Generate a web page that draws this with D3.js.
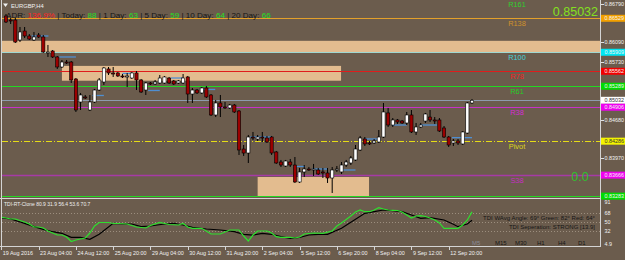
<!DOCTYPE html>
<html>
<head>
<meta charset="utf-8">
<script src="https://cdn.jsdelivr.net/npm/d3@7"></script>
<style>
  body { margin: 0; background: #6b5c4d; }
  svg { display: block; }
  text { font-family: "Liberation Sans", Arial, sans-serif; }
</style>
</head>
<body>
<div id="chart"></div>
<script>
const symbol = "EURGBP,H4";
const tickBars = [-1, 7, 15, 23, 31, 39, 47, 55, 63, 71, 79, 87, 95];
const tickLabels = ["19 Aug 2016", "23 Aug 04:00", "24 Aug 12:00", "25 Aug 20:00", "29 Aug 04:00",
  "30 Aug 12:00", "31 Aug 20:00", "2 Sep 04:00", "5 Sep 12:00", "6 Sep 20:00", "8 Sep 04:00",
  "9 Sep 12:00", "12 Sep 20:00"];

const opens = [0.86571,0.86498,0.86498,0.86133,0.86297,0.86206,0.86133,0.86224,0.86188,0.85896,
  0.85932,0.85823,0.85640,0.85731,0.85731,0.85421,0.85001,0.85093,0.84855,0.85001,
  0.85220,0.85366,0.85604,0.85531,0.85531,0.85476,0.85458,0.85439,0.85531,0.85403,
  0.85220,0.85348,0.85330,0.85348,0.85348,0.85439,0.85385,0.85348,0.85348,0.85458,
  0.85147,0.85220,0.85166,0.85257,0.85129,0.84764,0.84983,0.84910,0.84892,0.84946,
  0.84837,0.84143,0.84070,0.84362,0.84326,0.84362,0.84344,0.84362,0.84089,0.83906,
  0.83833,0.83906,0.83851,0.83541,0.83724,0.83778,0.83760,0.83760,0.83724,0.83705,
  0.83614,0.83760,0.83724,0.83851,0.83888,0.83943,0.84125,0.84326,0.84253,0.84253,
  0.84271,0.84362,0.84801,0.84581,0.84673,0.84654,0.84618,0.84764,0.84454,0.84545,
  0.84654,0.84727,0.84673,0.84673,0.84527,0.84362,0.84253,0.84290,0.84235,0.84435,
  0.84983];
const highs = [0.86607,0.86534,0.86534,0.86370,0.86370,0.86242,0.86279,0.86261,0.86224,0.86042,
  0.85950,0.85841,0.85768,0.85768,0.85750,0.85439,0.85166,0.85129,0.85129,0.85239,
  0.85439,0.85640,0.85640,0.85640,0.85549,0.85512,0.85531,0.85549,0.85567,0.85421,
  0.85366,0.85366,0.85403,0.85494,0.85476,0.85458,0.85403,0.85403,0.85512,0.85476,
  0.85257,0.85239,0.85275,0.85293,0.85147,0.85038,0.85129,0.85001,0.84965,0.84965,
  0.84855,0.84216,0.84399,0.84454,0.84399,0.84454,0.84381,0.84381,0.84107,0.83943,
  0.83943,0.83961,0.83997,0.83797,0.83851,0.83815,0.83870,0.83797,0.83797,0.83797,
  0.83815,0.83833,0.83906,0.83943,0.84016,0.84216,0.84381,0.84362,0.84290,0.84326,
  0.84490,0.84983,0.84892,0.84709,0.84691,0.84673,0.84819,0.84855,0.84618,0.84618,
  0.84801,0.84855,0.84727,0.84709,0.84563,0.84381,0.84326,0.84326,0.84472,0.85001,
  0.85056];
const lows = [0.86443,0.86425,0.86078,0.86096,0.86169,0.86133,0.86115,0.86169,0.85896,0.85823,
  0.85804,0.85604,0.85622,0.85695,0.85348,0.84819,0.84855,0.85056,0.84837,0.84983,
  0.85202,0.85312,0.85494,0.85458,0.85458,0.85439,0.85275,0.85421,0.85220,0.85166,
  0.85129,0.85312,0.85312,0.85330,0.85330,0.85330,0.85312,0.85330,0.85330,0.84983,
  0.84983,0.85147,0.85147,0.85074,0.84746,0.84727,0.84727,0.84874,0.84874,0.84801,
  0.84034,0.84016,0.83888,0.84308,0.84290,0.84271,0.84253,0.84034,0.83870,0.83815,
  0.83815,0.83815,0.83523,0.83523,0.83632,0.83742,0.83651,0.83669,0.83614,0.83523,
  0.83340,0.83724,0.83687,0.83815,0.83851,0.83924,0.84107,0.84198,0.84216,0.84235,
  0.84253,0.84344,0.84545,0.84545,0.84600,0.84600,0.84581,0.84435,0.84399,0.84527,
  0.84618,0.84636,0.84600,0.84454,0.84344,0.84180,0.84198,0.84216,0.84216,0.84417,
  0.84965];
const closes = [0.86461,0.86480,0.86096,0.86279,0.86206,0.86151,0.86188,0.86188,0.85914,0.85914,
  0.85823,0.85640,0.85731,0.85713,0.85403,0.84855,0.85129,0.85074,0.85001,0.85220,
  0.85403,0.85622,0.85531,0.85512,0.85476,0.85458,0.85476,0.85531,0.85403,0.85184,
  0.85348,0.85330,0.85366,0.85439,0.85458,0.85348,0.85330,0.85385,0.85439,0.85147,
  0.85220,0.85166,0.85257,0.85093,0.84764,0.84983,0.84910,0.84892,0.84946,0.84819,
  0.84125,0.84070,0.84362,0.84344,0.84362,0.84344,0.84271,0.84070,0.83888,0.83851,
  0.83924,0.83851,0.83541,0.83724,0.83778,0.83760,0.83778,0.83687,0.83705,0.83614,
  0.83760,0.83778,0.83851,0.83906,0.83979,0.84143,0.84344,0.84235,0.84235,0.84290,
  0.84362,0.84819,0.84581,0.84673,0.84636,0.84618,0.84764,0.84454,0.84545,0.84581,
  0.84782,0.84673,0.84654,0.84472,0.84362,0.84216,0.84290,0.84253,0.84454,0.84983,
  0.85032];

const currentPrice = 0.85032;
const priceTicks = [0.86790, 0.86440, 0.86090, 0.85730, 0.85380, 0.85030, 0.84680, 0.84330, 0.83970, 0.83620];

// fibonacci pivot levels
const levelNames = ["R161", "R138", "R100", "R78", "R61", "R38", "Pivot", "S38", "S61"];
const levelPrices = [0.86912, 0.86529, 0.85909, 0.85562, 0.85289, 0.84906, 0.84286, 0.83666, 0.83283];

// supply / demand zones
const zoneStart = [-2, 12, 54];
const zoneEnd = [130, 71.9, 77.9];
const zoneTop = [0.86118, 0.85660, 0.83632];
const zoneBottom = [0.85909, 0.85390, 0.83240];

// short blue marks
const markStart = [5.5, 11.4, 18.5, 25, 30.5, 35.4, 41.6, 52.4, 61.6, 65.7, 71.7, 77, 82.8, 88.8, 95.7];
const markEnd = [9.1, 15, 21, 27.3, 33, 38, 44.9, 57, 64.2, 68.9, 75, 80.3, 86, 92.5, 100];
const markPrice = [0.86206, 0.85823, 0.85120, 0.85522, 0.85211, 0.85439, 0.85230, 0.84362, 0.83824,
  0.83778, 0.83760, 0.84326, 0.84581, 0.84581, 0.84350];

// TDI: [bar, value]
const tdiGreen = [[-1.3,60.2],[0,58.2],[1,56.2],[2,56.2],[4,50.0],[5,45.9],[6,39.7],[7,39.7],[8,37.7],
  [9,31.5],[10,27.4],[11,23.3],[12,23.3],[13,19.2],[14,10.0],[15,13.1],[16,15.1],[17,17.2],[18,27.4],
  [19,41.8],[20,49.0],[21,49.0],[22,49.0],[23,46.9],[24,46.9],[26,45.9],[28,39.7],[30,37.7],[31,42.8],
  [33,49.0],[35,44.9],[37,43.9],[38,46.9],[39,39.7],[40,37.1],[42,37.1],[44,25.4],[46,25.4],[48,33.6],
  [50,33.6],[51,21.3],[52,11.0],[53,23.3],[54,31.5],[56,31.5],[57,27.4],[58,19.9],[59,18.6],[61,18.6],
  [62,17.2],[63,19.2],[64,25.4],[66,27.4],[68,26.8],[70,31.5],[71,41.8],[72,48.0],[73,55.1],[74,62.3],
  [75,70.5],[76,74.6],[77,71.1],[78,71.1],[79,74.6],[80,79.3],[81,76.6],[82,74.6],[83,74.0],[84,73.6],
  [85,70.5],[86,64.3],[87,58.2],[88,62.3],[89,62.9],[90,61.3],[91,58.2],[92,54.1],[93,48.0],[94,37.1],
  [95,37.1],[96,37.1],[97,37.1],[98,43.9],[99,54.1],[100,70.7]];
const tdiSignal = [[-1.3,58.8],[1,56.2],[4,47.3],[6,40.4],[8,35.0],[10,30.1],[12,26.8],[14,18.6],[16,18.6],
  [18,14.5],[20,24.8],[23,47.3],[25,45.9],[27,45.9],[29,40.4],[31,41.8],[34,45.9],[36,47.3],[38,43.9],
  [40,39.1],[43,35.6],[46,33.6],[49,30.1],[51,24.8],[53,23.3],[55,26.8],[57,24.8],[59,19.9],[61,16.6],
  [63,18.2],[65,23.3],[67,24.8],[69,24.8],[72,37.1],[74,49.4],[77,67.8],[79,71.1],[81,74.6],[83,73.2],
  [85,71.1],[87,64.3],[89,57.6],[91,58.8],[94,54.1],[96,45.3],[97,40.4],[99,45.9],[100,53.6]];
const tdiTicks = [91, 68, 50, 32, 4.9];
const tdiGrid = [68, 50, 32];
const tdiHeader = [80.9, 31.9, 56.4, 53.6, 70.7];

const adrLabels = ["ADR: ", " | Today: ", " | 1 Day: ", " | 5 Day: ", " | 10 Day: ", " | 20 Day: "];
const adrValues = ["136.9%", "88", "63", "59", "64", "66"];
const tdiAngle = {wavg: 69, green: 82, red: 64};
const tdiSeparation = "STRONG [13.9]";
const timeframes = ["M5", "M15", "M30", "H1", "H4", "D1"];

// ---- layout ----
const width = 625, height = 260;
const plotL = 2, plotR = 600;
const mainTop = 0, mainBot = 197;
const subTop = 199, subBot = 246;

const levelColor = {R161: "#2fcf2f", R138: "#e3a02a", R100: "#9fd8d2", R78: "#e01c1c", R61: "#22d822",
  R38: "#c831c8", Pivot: "#e6dc16", S38: "#a63aa6", S61: "#22d822"};
const levelTextColor = {R161: "#2fcf2f", R138: "#d1922c", R100: "#45cfd8", R78: "#f02424", R61: "#25cf25",
  R38: "#d62bd6", Pivot: "#dcd41c", S38: "#c62cc6", S61: "#25cf25"};
const levelBoxColor = {R138: "#f2a000", R100: "#00e6f2", R78: "#f20000", R61: "#00dc00",
  R38: "#f000f0", Pivot: "#f4f400", S38: "#f000f0", S61: "#00dc00"};

const svg = d3.select("#chart").append("svg")
    .attr("width", width)
    .attr("height", height);

svg.append("rect").attr("width", width).attr("height", height).attr("fill", "#6b5c4d");

const defs = svg.append("defs");
defs.append("clipPath").attr("id", "clipMain")
  .append("rect").attr("x", plotL).attr("y", mainTop).attr("width", plotR - plotL).attr("height", mainBot - mainTop);
defs.append("clipPath").attr("id", "clipSub")
  .append("rect").attr("x", plotL).attr("y", subTop).attr("width", plotR - plotL).attr("height", subBot - subTop);

const x = d3.scaleLinear().domain([0, 100]).range([6, 472]);
const y = d3.scaleLinear().domain([0.83267, 0.86863]).range([mainBot, mainTop]);
const yT = d3.scaleLinear().domain([4.9, 91]).range([244, 202]);

const main = svg.append("g").attr("clip-path", "url(#clipMain)");

// zones
main.selectAll("rect.zone")
  .data(zoneStart.map((s, i) => ({s: s, e: zoneEnd[i], t: zoneTop[i], b: zoneBottom[i]})))
  .join("rect")
  .attr("class", "zone")
  .attr("x", d => x(d.s))
  .attr("y", d => y(d.t))
  .attr("width", d => x(d.e) - x(d.s))
  .attr("height", d => y(d.b) - y(d.t))
  .attr("fill", "#e3bc8f");

// level lines
const levels = levelNames.map((n, i) => ({name: n, price: levelPrices[i]}));
main.selectAll("line.level")
  .data(levels)
  .join("line")
  .attr("class", "level")
  .attr("x1", plotL).attr("x2", plotR)
  .attr("y1", d => Math.round(y(d.price)) + 0.5)
  .attr("y2", d => Math.round(y(d.price)) + 0.5)
  .attr("stroke", d => levelColor[d.name])
  .attr("stroke-width", d => d.name == "S38" ? 1.6 : 1)
  .attr("stroke-dasharray", d => d.name == "Pivot" ? "6,2,1,2" : null);

// bid line
main.append("line")
  .attr("x1", plotL).attr("x2", plotR)
  .attr("y1", Math.round(y(currentPrice)) + 0.5).attr("y2", Math.round(y(currentPrice)) + 0.5)
  .attr("stroke", "#8d9bad").attr("stroke-width", 1);

// level labels (R161 sits above the window, keep its label inside)
main.selectAll("text.lvl")
  .data(levels)
  .join("text")
  .attr("class", "lvl")
  .attr("x", 517)
  .attr("y", d => Math.max(6.5, y(d.price) + 7.5))
  .attr("text-anchor", "middle")
  .attr("font-size", "7.4px")
  .attr("fill", d => levelTextColor[d.name])
  .text(d => d.name);

// blue marks
main.selectAll("line.mark")
  .data(markStart.map((s, i) => ({s: s, e: markEnd[i], p: markPrice[i]})))
  .join("line")
  .attr("class", "mark")
  .attr("x1", d => x(d.s)).attr("x2", d => x(d.e))
  .attr("y1", d => y(d.p)).attr("y2", d => y(d.p))
  .attr("stroke", "#4f8fd2").attr("stroke-width", 1.3);

// candles
const candles = opens.map((o, i) => ({i: i, o: o, h: highs[i], l: lows[i], c: closes[i]}));
const cg = main.append("g");
cg.selectAll("line.wick")
  .data(candles)
  .join("line")
  .attr("class", "wick")
  .attr("x1", d => x(d.i)).attr("x2", d => x(d.i))
  .attr("y1", d => y(d.h)).attr("y2", d => y(d.l))
  .attr("stroke", "#000").attr("stroke-width", 1);
cg.selectAll("rect.body")
  .data(candles)
  .join("rect")
  .attr("class", "body")
  .attr("x", d => x(d.i) - 1.6)
  .attr("width", 3.2)
  .attr("y", d => y(Math.max(d.o, d.c)))
  .attr("height", d => Math.max(1, y(Math.min(d.o, d.c)) - y(Math.max(d.o, d.c))))
  .attr("fill", d => d.c >= d.o ? "#ffffff" : "#9c0000")
  .attr("stroke", "#000").attr("stroke-width", 0.6);

// top-left info
svg.append("path").attr("d", "M3,3.5 L8,3.5 L5.5,7 Z").attr("fill", "#f0f0f0");
svg.append("text").attr("x", 11).attr("y", 7.5).attr("font-size", "5.8px").attr("fill", "#f0f0f0").text(symbol);

const adr = svg.append("text").attr("x", 6).attr("y", 18).attr("font-size", "8.1px");
adrLabels.forEach((lab, i) => {
  adr.append("tspan").attr("fill", "#151515").text(lab);
  adr.append("tspan").attr("fill", i == 0 ? "#ff2222" : "#22e022").text(adrValues[i]);
});

svg.append("text")
  .attr("x", 598).attr("y", 15.5)
  .attr("text-anchor", "end")
  .attr("font-size", "12.5px")
  .attr("fill", "#84e01e")
  .text(d3.format(".5f")(currentPrice));

svg.append("text")
  .attr("x", 580).attr("y", 180.5)
  .attr("text-anchor", "middle")
  .attr("font-size", "12.5px")
  .attr("fill", "#2fc02f")
  .text("0.0");

// ---- price axis ----
const fmt = d3.format(".5f");
const boxes = levels.filter(d => levelBoxColor[d.name])
  .concat([{name: "bid", price: currentPrice}])
  .sort((a, b) => a.name == "bid" ? -1 : b.name == "bid" ? 1 : 0);
// ticks that sit under a coloured box are hidden, as on the terminal
const freeTicks = priceTicks.filter(t => boxes.every(b => Math.abs(y(b.price) - y(t)) > 5));

svg.selectAll("line.ptick")
  .data(freeTicks)
  .join("line")
  .attr("x1", plotR + 1).attr("x2", plotR + 4)
  .attr("y1", d => Math.round(y(d)) + 0.5).attr("y2", d => Math.round(y(d)) + 0.5)
  .attr("stroke", "#e0e0e0");
svg.selectAll("text.ptick")
  .data(freeTicks)
  .join("text")
  .attr("class", "ptick")
  .attr("x", 604.5).attr("y", d => y(d) + 2)
  .attr("font-size", "5.4px")
  .attr("fill", "#f2f2f2")
  .text(d => fmt(d));

const bx = svg.selectAll("g.box").data(boxes).join("g").attr("class", "box");
bx.append("rect")
  .attr("x", plotR + 1).attr("width", 24)
  .attr("y", d => y(d.price) - 3.5).attr("height", 7)
  .attr("fill", d => d.name == "bid" ? "#ffffff" : levelBoxColor[d.name]);
bx.append("text")
  .attr("x", 604.5).attr("y", d => y(d.price) + 2)
  .attr("font-size", "5.4px")
  .attr("fill", d => (d.name == "bid" || d.name == "Pivot") ? "#333" : "#f4f4f4")
  .text(d => fmt(d.price));

// ---- TDI sub window ----
svg.selectAll("line.tgrid")
  .data(tdiGrid)
  .join("line")
  .attr("x1", plotL).attr("x2", plotR)
  .attr("y1", d => Math.round(yT(d)) + 0.5).attr("y2", d => Math.round(yT(d)) + 0.5)
  .attr("stroke", "#9c8e7e").attr("stroke-dasharray", "1,2");

const sub = svg.append("g").attr("clip-path", "url(#clipSub)");
const tline = d3.line().x(d => x(d[0])).y(d => yT(d[1]));
sub.append("path").datum(tdiSignal).attr("d", tline)
  .attr("fill", "none").attr("stroke", "#000").attr("stroke-width", 1.2);
sub.append("path").datum(tdiGreen).attr("d", tline)
  .attr("fill", "none").attr("stroke", "#2ee02e").attr("stroke-width", 1.2);

svg.append("text").attr("x", 4).attr("y", 206).attr("font-size", "5px").attr("fill", "#f0f0f0")
  .text("TDI-RT-Clone " + tdiHeader.join(" "));

svg.append("text").attr("x", 595).attr("y", 220).attr("text-anchor", "end")
  .attr("font-size", "6px").attr("fill", "#151515")
  .text(`TDI WAvg Angle: ${tdiAngle.wavg}°  Green: ${tdiAngle.green}°  Red: ${tdiAngle.red}°`);
svg.append("text").attr("x", 595).attr("y", 229).attr("text-anchor", "end")
  .attr("font-size", "6px").attr("fill", "#151515")
  .text("TDI Seperation: " + tdiSeparation);

const tfX = [472, 495, 515, 537, 558, 578];
svg.selectAll("text.tf")
  .data(timeframes)
  .join("text")
  .attr("class", "tf")
  .attr("x", (d, i) => tfX[i]).attr("y", 245)
  .attr("font-size", "6px")
  .attr("fill", (d, i) => i == 0 ? "#8a8a96" : "#151515")
  .text(d => d);

svg.selectAll("text.ttick")
  .data(tdiTicks)
  .join("text")
  .attr("class", "ttick")
  .attr("x", 604.5).attr("y", d => yT(d) + 2)
  .attr("font-size", "5.4px")
  .attr("fill", "#f2f2f2")
  .text(d => d);

// ---- frames ----
const frame = "#d4d4d4";
svg.append("line").attr("x1", 1.5).attr("x2", 1.5).attr("y1", 0).attr("y2", subBot).attr("stroke", frame);
svg.append("line").attr("x1", plotR + 0.5).attr("x2", plotR + 0.5).attr("y1", 0).attr("y2", subBot + 0.5).attr("stroke", frame);
svg.append("line").attr("x1", 0).attr("x2", plotR + 1).attr("y1", 198.5).attr("y2", 198.5).attr("stroke", frame);
svg.append("line").attr("x1", 0).attr("x2", plotR + 1).attr("y1", subBot + 0.5).attr("y2", subBot + 0.5).attr("stroke", frame);

// ---- time axis ----
svg.selectAll("line.xtick")
  .data(tickBars)
  .join("line")
  .attr("x1", d => Math.round(x(d)) + 0.5).attr("x2", d => Math.round(x(d)) + 0.5)
  .attr("y1", subBot).attr("y2", subBot + 4)
  .attr("stroke", frame);
svg.selectAll("text.xtick")
  .data(tickBars)
  .join("text")
  .attr("class", "xtick")
  .attr("x", d => Math.max(2, x(d) + 1.5)).attr("y", 255)
  .attr("font-size", "5.4px")
  .attr("fill", "#f2f2f2")
  .text((d, i) => tickLabels[i]);
</script>
</body>
</html>
